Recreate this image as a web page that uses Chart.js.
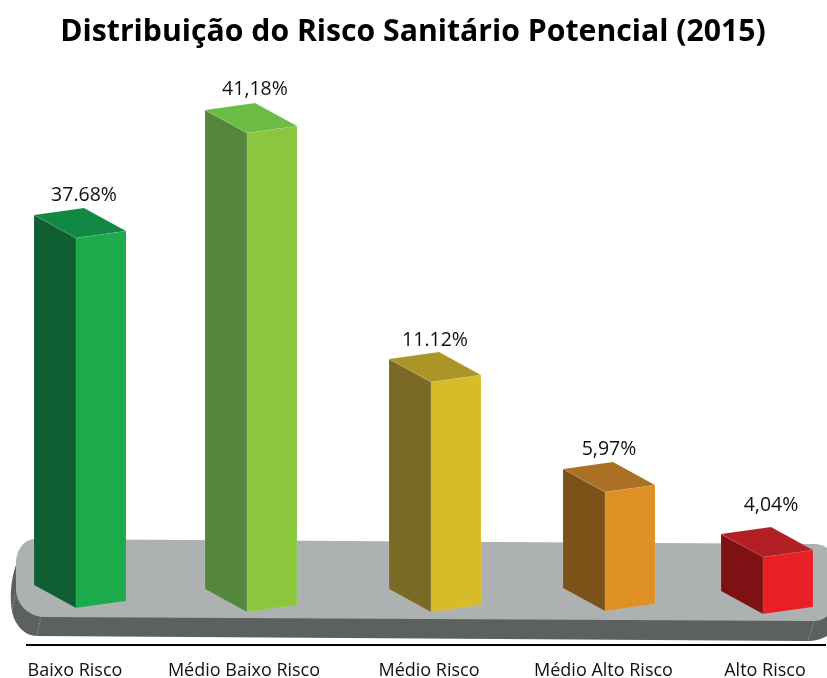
<!DOCTYPE html>
<html lang="pt">
<head>
<meta charset="utf-8">
<title>Distribuição do Risco Sanitário Potencial (2015)</title>
<script src="https://cdn.jsdelivr.net/npm/chart.js@4/dist/chart.umd.min.js"></script>
<style>
    html, body { margin: 0; padding: 0; background: #fff; overflow: hidden; }
    canvas { display: block; }
</style>
</head>
<body>
<canvas id="riskChart" width="827" height="678"></canvas>
<script>
const categories = ['Baixo Risco', 'Médio Baixo Risco', 'Médio Risco', 'Médio Alto Risco', 'Alto Risco'];
const riskShare = [37.68, 41.18, 11.12, 5.97, 4.04];
const valueLabels = ['37.68%', '41,18%', '11.12%', '5,97%', '4,04%'];

const frontColors = ['#1bab4b', '#8bc63f', '#d8bb28', '#de9024', '#e91f26'];
const sideColors = ['#0f5f32', '#54863c', '#7a6a26', '#7b5217', '#7f1114'];
const topColors = ['#118843', '#6cbb45', '#ab9526', '#ac7025', '#b21f25'];

// The column heights are not linear in the percentages, so the y axis is
// piecewise: [value, px above the floor line]
const heightStops = [[0, 0], [4.04, 55], [5.97, 120], [11.12, 230], [37.68, 374], [41.18, 479]];
const FLOOR_GAP = 33; // floor line sits this far above the x axis

class SteppedScale extends Chart.LinearScale {
    static id = 'stepped';
    static defaults = Chart.LinearScale.defaults;

    getPixelForValue(value) {
        let h = 0;
        for (let i = 1; i < heightStops.length; i++) {
            const [v0, h0] = heightStops[i - 1];
            const [v1, h1] = heightStops[i];
            if (value <= v1 || i === heightStops.length - 1) {
                h = h0 + (value - v0) / (v1 - v0) * (h1 - h0);
                break;
            }
        }
        return this.bottom - FLOOR_GAP - h;
    }
}

// Columns and captions are not evenly spaced on this chart
const barShift = [-5.8, 5.6, 30, 44.4, 42.8];
const tickShift = [-31.8, -22.4, 3, 17.9, 19.8];

class UnevenCategoryScale extends Chart.CategoryScale {
    static id = 'unevenCategory';
    static defaults = Chart.CategoryScale.defaults;

    getPixelForValue(value) {
        return super.getPixelForValue(value) + (barShift[Math.round(value)] || 0);
    }

    getPixelForTick(index) {
        return super.getPixelForValue(this.ticks[index].value) + tickShift[index];
    }
}

Chart.register(SteppedScale, UnevenCategoryScale);

// Box projection, relative to the front-left corner of a column
const RUN_X = -42, RUN_Y = -23;  // depth edge going back and left
const SLOPE_Y = -7;              // rise of the front face left to right

const floorShift = [-4, 0, 0, -1, 2];
const labelLift = [43, 44, 42, 43, 52];
const labelNudge = [8, 8, 4, 4, 8];

function fillFace(ctx, points, color) {
    ctx.beginPath();
    points.forEach((p, i) => i ? ctx.lineTo(p[0], p[1]) : ctx.moveTo(p[0], p[1]));
    ctx.closePath();
    ctx.fillStyle = color;
    ctx.fill();
    ctx.strokeStyle = 'rgba(255, 255, 255, 0.15)';
    ctx.lineWidth = 0.6;
    ctx.stroke();
}

// Grey slab the columns stand on
function drawPlatform(ctx) {
    ctx.fillStyle = '#5d6061';
    ctx.beginPath();
    ctx.moveTo(17, 562);
    ctx.bezierCurveTo(12, 575, 10, 590, 11, 603);
    ctx.bezierCurveTo(12, 625, 25, 636, 37, 636);
    ctx.lineTo(806, 641);
    ctx.bezierCurveTo(815, 641, 822, 639, 827, 636);
    ctx.lineTo(827, 600);
    ctx.lineTo(40, 590);
    ctx.closePath();
    ctx.fill();

    ctx.fillStyle = '#adb1b2';
    ctx.beginPath();
    ctx.moveTo(33, 539);
    ctx.lineTo(813, 544);
    ctx.bezierCurveTo(820, 544, 824, 546, 827, 548);
    ctx.lineTo(827, 616);
    ctx.bezierCurveTo(823, 620, 818, 621, 812, 621);
    ctx.lineTo(44, 617);
    ctx.bezierCurveTo(28, 616, 17, 605, 16, 590);
    ctx.lineTo(16, 563);
    ctx.bezierCurveTo(16, 552, 22, 541, 33, 539);
    ctx.closePath();
    ctx.fill();

    // faint seams on the slab edge
    ctx.strokeStyle = 'rgba(255, 255, 255, 0.45)';
    ctx.lineWidth = 0.6;
    ctx.setLineDash([2, 1]);
    [[41, 616, 37, 636], [814, 621, 808, 641], [15, 595, 12, 612]].forEach(s => {
        ctx.beginPath();
        ctx.moveTo(s[0], s[1]);
        ctx.lineTo(s[2], s[3]);
        ctx.stroke();
    });
    ctx.setLineDash([]);
}

const columns3d = {
    id: 'columns3d',
    afterLayout(chart) {
        // centre the title on the page, not on the plot area
        chart.titleBlock.left = 0;
        chart.titleBlock.right = chart.width - 1;
    },
    beforeDatasetsDraw(chart) {
        drawPlatform(chart.ctx);
    },
    afterDatasetsDraw(chart) {
        const ctx = chart.ctx;
        chart.getDatasetMeta(0).data.forEach((bar, i) => {
            const w = bar.width;
            const x = bar.x - w / 2;
            const top = bar.y;
            const bottom = bar.base + floorShift[i];

            fillFace(ctx, [[x, top], [x + RUN_X, top + RUN_Y], [x + RUN_X, bottom + RUN_Y], [x, bottom]], sideColors[i]);
            fillFace(ctx, [[x, top], [x + w, top + SLOPE_Y], [x + w, bottom + SLOPE_Y], [x, bottom]], frontColors[i]);
            fillFace(ctx, [[x, top], [x + RUN_X, top + RUN_Y], [x + RUN_X + w, top + RUN_Y + SLOPE_Y], [x + w, top + SLOPE_Y]], topColors[i]);

            ctx.fillStyle = '#111';
            ctx.font = '19.5px "Open Sans", sans-serif';
            ctx.textAlign = 'center';
            ctx.textBaseline = 'middle';
            ctx.fillText(valueLabels[i], x + labelNudge[i], top - labelLift[i]);
        });
    }
};

new Chart(document.getElementById('riskChart'), {
    type: 'bar',
    data: {
        labels: categories,
        datasets: [{
            data: riskShare,
            backgroundColor: 'transparent',
            barThickness: 50
        }]
    },
    plugins: [columns3d],
    options: {
        responsive: false,
        animation: false,
        events: [],
        layout: { padding: { left: 27, right: 2 } },
        plugins: {
            legend: { display: false },
            tooltip: { enabled: false },
            title: {
                display: true,
                text: 'Distribuição do Risco Sanitário Potencial (2015)',
                color: '#000',
                font: { family: '"Open Sans", sans-serif', size: 30.2, weight: 'bold' },
                padding: { top: 14, bottom: 10 }
            }
        },
        scales: {
            x: {
                type: 'unevenCategory',
                grid: { display: false, drawTicks: false },
                border: { color: '#000', width: 2 },
                afterFit(scale) {
                    scale.height = 33;
                },
                ticks: {
                    color: '#111',
                    font: { family: '"Open Sans", sans-serif', size: 18 },
                    padding: 15,
                    autoSkip: false,
                    maxRotation: 0,
                    minRotation: 0
                }
            },
            y: {
                type: 'stepped',
                display: false,
                min: 0,
                max: 45
            }
        }
    }
});
</script>
</body>
</html>
